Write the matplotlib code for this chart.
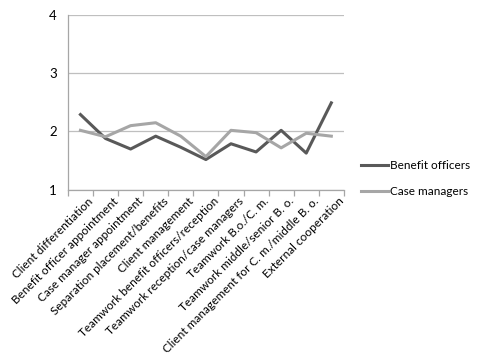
import numpy as np
import matplotlib.pyplot as plt
from matplotlib.transforms import ScaledTranslation

# categories and mean scores
categories = ['Client differentiation', 'Benefit officer appointment',
              'Case manager appointment', 'Separation placement/benefits',
              'Client management', 'Teamwork benefit officers/reception',
              'Teamwork reception/case managers', 'Teamwork B.o./C. m.',
              'Teamwork middle/senior B. o.',
              'Client management for C. m./middle B. o.',
              'External cooperation']
benefit_officers = [2.29, 1.88, 1.70, 1.92, 1.73, 1.52, 1.79, 1.65, 2.02, 1.63, 2.49]
case_managers = [2.02, 1.91, 2.10, 2.15, 1.92, 1.57, 2.02, 1.98, 1.72, 1.97, 1.92]
y_ticks = [1, 2, 3, 4]

plt.rcParams['font.family'] = ['Lato', 'DejaVu Sans']

fig = plt.figure(figsize=(4.85, 3.57), dpi=100)
ax = fig.add_axes([0.140, 0.468, 0.569, 0.491])

x = np.arange(len(categories))
ax.plot(x, benefit_officers, color='#595959', lw=2.2, label='Benefit officers')
ax.plot(x, case_managers, color='#A6A6A6', lw=2.2, label='Case managers')

ax.set_xlim(-0.5, len(categories) - 0.5)
ax.set_ylim(1, 4)
ax.set_yticks(y_ticks)
ax.yaxis.grid(True, color='#BFBFBF', lw=0.9)
ax.set_axisbelow(True)
ax.tick_params(axis='y', length=0, labelsize=9.5, pad=8, colors='#000000')

# category labels between boundary ticks
ax.set_xticks(x)
ax.set_xticklabels(categories, rotation=45, ha='right', rotation_mode='anchor', fontsize=8.5)
ax.tick_params(axis='x', length=0, pad=4)
# nudge labels a little to the right, like the original
for lbl in ax.get_xticklabels():
    lbl.set_transform(lbl.get_transform() + ScaledTranslation(5/72, 0, fig.dpi_scale_trans))
ax.set_xticks(np.arange(len(categories) + 1) - 0.5, minor=True)
ax.tick_params(axis='x', which='minor', length=4, color='#A6A6A6', width=0.9)

for s in ['top', 'right']:
    ax.spines[s].set_visible(False)
ax.spines['left'].set_color('#A6A6A6')
ax.spines['bottom'].set_color('#A6A6A6')
ax.spines['left'].set_linewidth(0.9)
ax.spines['bottom'].set_linewidth(0.9)

ax.legend(loc='center left', bbox_to_anchor=(1.045, 0.066), frameon=False,
          fontsize=8.5, handlelength=2.3, handletextpad=0.15, labelspacing=1.3,
          borderaxespad=0)

fig.savefig('out.png', dpi=100)
